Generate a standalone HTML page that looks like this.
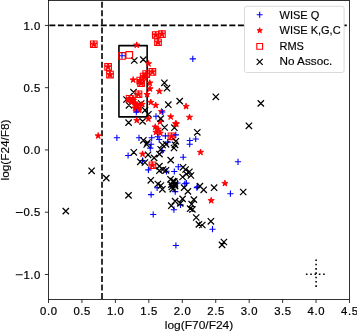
<!DOCTYPE html><html><head><meta charset="utf-8"><style>html,body{margin:0;padding:0;background:#fff;}svg{display:block;}text{font-family:"Liberation Sans",sans-serif;stroke:#000;stroke-width:0.22px;}</style></head><body>
<svg style="will-change:transform" width="357" height="332" viewBox="0 0 357 332">
<rect x="0" y="0" width="357" height="332" fill="#fff"/>
<line x1="102.01" y1="299.1" x2="102.01" y2="0.5" stroke="#000" stroke-width="1.6" stroke-dasharray="6.0 2.571"/>
<line x1="49.35" y1="25.41" x2="349.5" y2="25.41" stroke="#000" stroke-width="1.6" stroke-dasharray="6.0 2.571"/>
<rect x="118.95" y="45.6" width="28.2" height="71.3" fill="none" stroke="#000" stroke-width="1.6" stroke-linejoin="round"/>
<path d="M131.15,57.35l6.30,6.30M131.15,63.65l6.30,-6.30M140.15,56.45l6.30,6.30M140.15,62.75l6.30,-6.30M161.25,79.65l6.30,6.30M161.25,85.95l6.30,-6.30M163.85,85.05l6.30,6.30M163.85,91.35l6.30,-6.30M130.35,89.05l6.30,6.30M130.35,95.35l6.30,-6.30M123.35,96.35l6.30,6.30M123.35,102.65l6.30,-6.30M125.85,102.15l6.30,6.30M125.85,108.45l6.30,-6.30M138.05,100.35l6.30,6.30M138.05,106.65l6.30,-6.30M141.85,107.05l6.30,6.30M141.85,113.35l6.30,-6.30M165.15,101.55l6.30,6.30M165.15,107.85l6.30,-6.30M176.55,97.95l6.30,6.30M176.55,104.25l6.30,-6.30M145.25,111.15l6.30,6.30M145.25,117.45l6.30,-6.30M139.45,118.25l6.30,6.30M139.45,124.55l6.30,-6.30M125.45,119.45l6.30,6.30M125.45,125.75l6.30,-6.30M161.45,124.35l6.30,6.30M161.45,130.65l6.30,-6.30M171.25,124.55l6.30,6.30M171.25,130.85l6.30,-6.30M212.65,93.65l6.30,6.30M212.65,99.95l6.30,-6.30M257.65,100.25l6.30,6.30M257.65,106.55l6.30,-6.30M245.75,122.65l6.30,6.30M245.75,128.95l6.30,-6.30M194.15,129.15l6.30,6.30M194.15,135.45l6.30,-6.30" stroke="#000" stroke-width="1.25" fill="none"/>
<path d="M136.70,41.85 L135.97,44.10 L133.61,44.10 L135.52,45.48 L134.79,47.73 L136.70,46.34 L138.61,47.73 L137.88,45.48 L139.79,44.10 L137.43,44.10ZM148.50,60.45 L147.77,62.70 L145.41,62.70 L147.32,64.08 L146.59,66.33 L148.50,64.94 L150.41,66.33 L149.68,64.08 L151.59,62.70 L149.23,62.70ZM133.20,76.65 L132.47,78.90 L130.11,78.90 L132.02,80.28 L131.29,82.53 L133.20,81.14 L135.11,82.53 L134.38,80.28 L136.29,78.90 L133.93,78.90ZM149.80,79.75 L149.07,82.00 L146.71,82.00 L148.62,83.38 L147.89,85.63 L149.80,84.24 L151.71,85.63 L150.98,83.38 L152.89,82.00 L150.53,82.00ZM150.00,85.55 L149.27,87.80 L146.91,87.80 L148.82,89.18 L148.09,91.43 L150.00,90.04 L151.91,91.43 L151.18,89.18 L153.09,87.80 L150.73,87.80ZM159.40,88.05 L158.67,90.30 L156.31,90.30 L158.22,91.68 L157.49,93.93 L159.40,92.54 L161.31,93.93 L160.58,91.68 L162.49,90.30 L160.13,90.30ZM98.20,132.55 L97.47,134.80 L95.11,134.80 L97.02,136.18 L96.29,138.43 L98.20,137.04 L100.11,138.43 L99.38,136.18 L101.29,134.80 L98.93,134.80ZM133.50,97.15 L132.77,99.40 L130.41,99.40 L132.32,100.78 L131.59,103.03 L133.50,101.64 L135.41,103.03 L134.68,100.78 L136.59,99.40 L134.23,99.40ZM135.80,101.15 L135.07,103.40 L132.71,103.40 L134.62,104.78 L133.89,107.03 L135.80,105.64 L137.71,107.03 L136.98,104.78 L138.89,103.40 L136.53,103.40ZM142.10,101.15 L141.37,103.40 L139.01,103.40 L140.92,104.78 L140.19,107.03 L142.10,105.64 L144.01,107.03 L143.28,104.78 L145.19,103.40 L142.83,103.40ZM138.10,106.15 L137.37,108.40 L135.01,108.40 L136.92,109.78 L136.19,112.03 L138.10,110.64 L140.01,112.03 L139.28,109.78 L141.19,108.40 L138.83,108.40ZM133.00,95.55 L132.27,97.80 L129.91,97.80 L131.82,99.18 L131.09,101.43 L133.00,100.04 L134.91,101.43 L134.18,99.18 L136.09,97.80 L133.73,97.80ZM131.00,98.75 L130.27,101.00 L127.91,101.00 L129.82,102.38 L129.09,104.63 L131.00,103.24 L132.91,104.63 L132.18,102.38 L134.09,101.00 L131.73,101.00ZM135.00,99.75 L134.27,102.00 L131.91,102.00 L133.82,103.38 L133.09,105.63 L135.00,104.24 L136.91,105.63 L136.18,103.38 L138.09,102.00 L135.73,102.00ZM137.00,102.75 L136.27,105.00 L133.91,105.00 L135.82,106.38 L135.09,108.63 L137.00,107.24 L138.91,108.63 L138.18,106.38 L140.09,105.00 L137.73,105.00ZM139.50,101.25 L138.77,103.50 L136.41,103.50 L138.32,104.88 L137.59,107.13 L139.50,105.74 L141.41,107.13 L140.68,104.88 L142.59,103.50 L140.23,103.50ZM135.00,104.75 L134.27,107.00 L131.91,107.00 L133.82,108.38 L133.09,110.63 L135.00,109.24 L136.91,110.63 L136.18,108.38 L138.09,107.00 L135.73,107.00ZM139.00,106.75 L138.27,109.00 L135.91,109.00 L137.82,110.38 L137.09,112.63 L139.00,111.24 L140.91,112.63 L140.18,110.38 L142.09,109.00 L139.73,109.00ZM136.80,117.15 L136.07,119.40 L133.71,119.40 L135.62,120.78 L134.89,123.03 L136.80,121.64 L138.71,123.03 L137.98,120.78 L139.89,119.40 L137.53,119.40ZM147.10,91.25 L146.37,93.50 L144.01,93.50 L145.92,94.88 L145.19,97.13 L147.10,95.74 L149.01,97.13 L148.28,94.88 L150.19,93.50 L147.83,93.50ZM150.80,99.05 L150.07,101.30 L147.71,101.30 L149.62,102.68 L148.89,104.93 L150.80,103.54 L152.71,104.93 L151.98,102.68 L153.89,101.30 L151.53,101.30ZM155.70,102.05 L154.97,104.30 L152.61,104.30 L154.52,105.68 L153.79,107.93 L155.70,106.54 L157.61,107.93 L156.88,105.68 L158.79,104.30 L156.43,104.30ZM170.70,113.55 L169.97,115.80 L167.61,115.80 L169.52,117.18 L168.79,119.43 L170.70,118.04 L172.61,119.43 L171.88,117.18 L173.79,115.80 L171.43,115.80ZM148.40,115.65 L147.67,117.90 L145.31,117.90 L147.22,119.28 L146.49,121.53 L148.40,120.14 L150.31,121.53 L149.58,119.28 L151.49,117.90 L149.13,117.90ZM160.00,118.55 L159.27,120.80 L156.91,120.80 L158.82,122.18 L158.09,124.43 L160.00,123.04 L161.91,124.43 L161.18,122.18 L163.09,120.80 L160.73,120.80ZM155.30,123.75 L154.57,126.00 L152.21,126.00 L154.12,127.38 L153.39,129.63 L155.30,128.24 L157.21,129.63 L156.48,127.38 L158.39,126.00 L156.03,126.00ZM158.20,125.95 L157.47,128.20 L155.11,128.20 L157.02,129.58 L156.29,131.83 L158.20,130.44 L160.11,131.83 L159.38,129.58 L161.29,128.20 L158.93,128.20ZM155.90,129.05 L155.17,131.30 L152.81,131.30 L154.72,132.68 L153.99,134.93 L155.90,133.54 L157.81,134.93 L157.08,132.68 L158.99,131.30 L156.63,131.30ZM160.30,129.95 L159.57,132.20 L157.21,132.20 L159.12,133.58 L158.39,135.83 L160.30,134.44 L162.21,135.83 L161.48,133.58 L163.39,132.20 L161.03,132.20ZM161.50,108.35 L160.77,110.60 L158.41,110.60 L160.32,111.98 L159.59,114.23 L161.50,112.84 L163.41,114.23 L162.68,111.98 L164.59,110.60 L162.23,110.60ZM175.50,120.45 L174.77,122.70 L172.41,122.70 L174.32,124.08 L173.59,126.33 L175.50,124.94 L177.41,126.33 L176.68,124.08 L178.59,122.70 L176.23,122.70ZM186.10,103.15 L185.37,105.40 L183.01,105.40 L184.92,106.78 L184.19,109.03 L186.10,107.64 L188.01,109.03 L187.28,106.78 L189.19,105.40 L186.83,105.40ZM189.50,114.05 L188.77,116.30 L186.41,116.30 L188.32,117.68 L187.59,119.93 L189.50,118.54 L191.41,119.93 L190.68,117.68 L192.59,116.30 L190.23,116.30ZM176.40,120.65 L175.67,122.90 L173.31,122.90 L175.22,124.28 L174.49,126.53 L176.40,125.14 L178.31,126.53 L177.58,124.28 L179.49,122.90 L177.13,122.90ZM200.50,149.05 L199.77,151.30 L197.41,151.30 L199.32,152.68 L198.59,154.93 L200.50,153.54 L202.41,154.93 L201.68,152.68 L203.59,151.30 L201.23,151.30ZM142.60,150.85 L141.87,153.10 L139.51,153.10 L141.42,154.48 L140.69,156.73 L142.60,155.34 L144.51,156.73 L143.78,154.48 L145.69,153.10 L143.33,153.10ZM224.90,180.15 L224.17,182.40 L221.81,182.40 L223.72,183.78 L222.99,186.03 L224.90,184.64 L226.81,186.03 L226.08,183.78 L227.99,182.40 L225.63,182.40ZM211.20,197.35 L210.47,199.60 L208.11,199.60 L210.02,200.98 L209.29,203.23 L211.20,201.84 L213.11,203.23 L212.38,200.98 L214.29,199.60 L211.93,199.60Z" fill="#ff0000" stroke="#ff0000" stroke-width="0.9" stroke-linejoin="bevel"/>
<path d="M93.80,40.65 L92.99,43.14 L90.38,43.14 L92.49,44.67 L91.68,47.16 L93.80,45.63 L95.92,47.16 L95.11,44.67 L97.22,43.14 L94.61,43.14ZM108.10,63.35 L107.29,65.84 L104.68,65.84 L106.79,67.37 L105.98,69.86 L108.10,68.33 L110.22,69.86 L109.41,67.37 L111.52,65.84 L108.91,65.84ZM110.00,70.95 L109.19,73.44 L106.58,73.44 L108.69,74.97 L107.88,77.46 L110.00,75.93 L112.12,77.46 L111.31,74.97 L113.42,73.44 L110.81,73.44ZM155.75,31.40 L154.94,33.89 L152.33,33.89 L154.44,35.42 L153.63,37.91 L155.75,36.38 L157.87,37.91 L157.06,35.42 L159.17,33.89 L156.56,33.89ZM161.90,30.60 L161.09,33.09 L158.48,33.09 L160.59,34.62 L159.78,37.11 L161.90,35.58 L164.02,37.11 L163.21,34.62 L165.32,33.09 L162.71,33.09ZM158.00,38.65 L157.19,41.14 L154.58,41.14 L156.69,42.67 L155.88,45.16 L158.00,43.63 L160.12,45.16 L159.31,42.67 L161.42,41.14 L158.81,41.14ZM152.40,68.35 L151.59,70.84 L148.98,70.84 L151.09,72.37 L150.28,74.86 L152.40,73.33 L154.52,74.86 L153.71,72.37 L155.82,70.84 L153.21,70.84ZM146.20,70.45 L145.39,72.94 L142.78,72.94 L144.89,74.47 L144.08,76.96 L146.20,75.43 L148.32,76.96 L147.51,74.47 L149.62,72.94 L147.01,72.94ZM143.60,72.95 L142.79,75.44 L140.18,75.44 L142.29,76.97 L141.48,79.46 L143.60,77.93 L145.72,79.46 L144.91,76.97 L147.02,75.44 L144.41,75.44ZM140.20,76.95 L139.39,79.44 L136.78,79.44 L138.89,80.97 L138.08,83.46 L140.20,81.93 L142.32,83.46 L141.51,80.97 L143.62,79.44 L141.01,79.44ZM141.10,79.45 L140.29,81.94 L137.68,81.94 L139.79,83.47 L138.98,85.96 L141.10,84.43 L143.22,85.96 L142.41,83.47 L144.52,81.94 L141.91,81.94ZM138.50,90.65 L137.69,93.14 L135.08,93.14 L137.19,94.67 L136.38,97.16 L138.50,95.63 L140.62,97.16 L139.81,94.67 L141.92,93.14 L139.31,93.14ZM137.60,104.65 L136.79,107.14 L134.18,107.14 L136.29,108.67 L135.48,111.16 L137.60,109.63 L139.72,111.16 L138.91,108.67 L141.02,107.14 L138.41,107.14ZM129.60,95.15 L128.79,97.64 L126.18,97.64 L128.29,99.17 L127.48,101.66 L129.60,100.13 L131.72,101.66 L130.91,99.17 L133.02,97.64 L130.41,97.64ZM171.50,132.75 L170.69,135.24 L168.08,135.24 L170.19,136.77 L169.38,139.26 L171.50,137.73 L173.62,139.26 L172.81,136.77 L174.92,135.24 L172.31,135.24ZM152.40,161.65 L151.59,164.14 L148.98,164.14 L151.09,165.67 L150.28,168.16 L152.40,166.63 L154.52,168.16 L153.71,165.67 L155.82,164.14 L153.21,164.14Z" fill="#ff0000" stroke="#ff0000" stroke-width="0.9" stroke-linejoin="bevel"/>
<path d="M90.50,40.95h6.60v6.60h-6.60ZM104.80,63.65h6.60v6.60h-6.60ZM106.70,71.25h6.60v6.60h-6.60ZM152.45,31.70h6.60v6.60h-6.60ZM158.60,30.90h6.60v6.60h-6.60ZM154.70,38.95h6.60v6.60h-6.60ZM149.10,68.65h6.60v6.60h-6.60ZM142.90,70.75h6.60v6.60h-6.60ZM140.30,73.25h6.60v6.60h-6.60ZM136.90,77.25h6.60v6.60h-6.60ZM137.80,79.75h6.60v6.60h-6.60ZM135.20,90.95h6.60v6.60h-6.60ZM134.30,104.95h6.60v6.60h-6.60ZM126.30,95.45h6.60v6.60h-6.60ZM168.20,133.05h6.60v6.60h-6.60ZM149.10,161.95h6.60v6.60h-6.60ZM118.70,52.65h6.60v6.60h-6.60ZM126.00,51.65h6.60v6.60h-6.60Z" stroke="#ff0000" stroke-width="1.1" fill="none"/>
<path d="M174.50,183.00h6.20M177.60,179.90v6.20M163.40,171.30h6.20M166.50,168.20v6.20M118.90,55.70h6.20M122.00,52.60v6.20M113.80,137.80h6.20M116.90,134.70v6.20M189.70,58.90h6.20M192.80,55.80v6.20M133.20,112.10h6.20M136.30,109.00v6.20M159.20,112.00h6.20M162.30,108.90v6.20M152.90,116.30h6.20M156.00,113.20v6.20M162.30,135.90h6.20M165.40,132.80v6.20M172.70,134.90h6.20M175.80,131.80v6.20M154.60,136.70h6.20M157.70,133.60v6.20M148.60,137.80h6.20M151.70,134.70v6.20M135.90,137.80h6.20M139.00,134.70v6.20M156.10,139.50h6.20M159.20,136.40v6.20M164.60,142.10h6.20M167.70,139.00v6.20M186.70,140.50h6.20M189.80,137.40v6.20M192.60,139.00h6.20M195.70,135.90v6.20M186.60,144.20h6.20M189.70,141.10v6.20M180.10,157.20h6.20M183.20,154.10v6.20M175.20,166.80h6.20M178.30,163.70v6.20M148.00,144.30h6.20M151.10,141.20v6.20M147.20,148.10h6.20M150.30,145.00v6.20M159.10,150.60h6.20M162.20,147.50v6.20M125.00,155.50h6.20M128.10,152.40v6.20M139.40,160.50h6.20M142.50,157.40v6.20M145.30,169.90h6.20M148.40,166.80v6.20M171.20,171.50h6.20M174.30,168.40v6.20M154.00,187.80h6.20M157.10,184.70v6.20M148.00,194.60h6.20M151.10,191.50v6.20M150.10,214.50h6.20M153.20,211.40v6.20M172.10,191.60h6.20M175.20,188.50v6.20M183.30,183.10h6.20M186.40,180.00v6.20M193.80,187.60h6.20M196.90,184.50v6.20M177.40,204.90h6.20M180.50,201.80v6.20M170.80,209.70h6.20M173.90,206.60v6.20M181.70,183.80h6.20M184.80,180.70v6.20M194.50,186.70h6.20M197.60,183.60v6.20M234.90,161.80h6.20M238.00,158.70v6.20M227.30,193.70h6.20M230.40,190.60v6.20M209.40,229.20h6.20M212.50,226.10v6.20M172.80,245.50h6.20M175.90,242.40v6.20" stroke="#0000ff" stroke-width="1.1" fill="none"/>
<path d="M179.85,164.15l6.30,6.30M179.85,170.45l6.30,-6.30M169.85,178.05l6.30,6.30M169.85,184.35l6.30,-6.30M171.85,181.05l6.30,6.30M171.85,187.35l6.30,-6.30M168.65,183.85l6.30,6.30M168.65,190.15l6.30,-6.30M140.25,137.15l6.30,6.30M140.25,143.45l6.30,-6.30M144.35,139.35l6.30,6.30M144.35,145.65l6.30,-6.30M143.55,141.35l6.30,6.30M143.55,147.65l6.30,-6.30M159.45,141.85l6.30,6.30M159.45,148.15l6.30,-6.30M162.95,141.15l6.30,6.30M162.95,147.45l6.30,-6.30M172.65,138.15l6.30,6.30M172.65,144.45l6.30,-6.30M171.85,141.65l6.30,6.30M171.85,147.95l6.30,-6.30M170.85,144.85l6.30,6.30M170.85,151.15l6.30,-6.30M157.55,146.15l6.30,6.30M157.55,152.45l6.30,-6.30M156.35,150.95l6.30,6.30M156.35,157.25l6.30,-6.30M130.65,149.15l6.30,6.30M130.65,155.45l6.30,-6.30M144.95,151.65l6.30,6.30M144.95,157.95l6.30,-6.30M150.95,154.75l6.30,6.30M150.95,161.05l6.30,-6.30M137.15,158.65l6.30,6.30M137.15,164.95l6.30,-6.30M141.75,159.35l6.30,6.30M141.75,165.65l6.30,-6.30M167.55,156.95l6.30,6.30M167.55,163.25l6.30,-6.30M156.25,162.95l6.30,6.30M156.25,169.25l6.30,-6.30M156.25,167.55l6.30,6.30M156.25,173.85l6.30,-6.30M159.85,166.35l6.30,6.30M159.85,172.65l6.30,-6.30M210.95,184.55l6.30,6.30M210.95,190.85l6.30,-6.30M240.05,188.85l6.30,6.30M240.05,195.15l6.30,-6.30M147.65,177.15l6.30,6.30M147.65,183.45l6.30,-6.30M154.75,180.85l6.30,6.30M154.75,187.15l6.30,-6.30M157.75,182.35l6.30,6.30M157.75,188.65l6.30,-6.30M159.25,186.15l6.30,6.30M159.25,192.45l6.30,-6.30M162.85,167.15l6.30,6.30M162.85,173.45l6.30,-6.30M182.45,166.35l6.30,6.30M182.45,172.65l6.30,-6.30M186.25,168.65l6.30,6.30M186.25,174.95l6.30,-6.30M187.75,172.35l6.30,6.30M187.75,178.65l6.30,-6.30M183.25,170.85l6.30,6.30M183.25,177.15l6.30,-6.30M179.45,173.85l6.30,6.30M179.45,180.15l6.30,-6.30M167.35,176.15l6.30,6.30M167.35,182.45l6.30,-6.30M171.15,178.45l6.30,6.30M171.15,184.75l6.30,-6.30M168.15,181.45l6.30,6.30M168.15,187.75l6.30,-6.30M171.95,182.95l6.30,6.30M171.95,189.25l6.30,-6.30M169.65,185.95l6.30,6.30M169.65,192.25l6.30,-6.30M180.95,184.45l6.30,6.30M180.95,190.75l6.30,-6.30M184.75,188.25l6.30,6.30M184.75,194.55l6.30,-6.30M196.75,182.95l6.30,6.30M196.75,189.25l6.30,-6.30M200.55,186.65l6.30,6.30M200.55,192.95l6.30,-6.30M171.95,197.95l6.30,6.30M171.95,204.25l6.30,-6.30M179.45,195.75l6.30,6.30M179.45,202.05l6.30,-6.30M168.15,202.55l6.30,6.30M168.15,208.85l6.30,-6.30M177.15,200.25l6.30,6.30M177.15,206.55l6.30,-6.30M190.75,196.45l6.30,6.30M190.75,202.75l6.30,-6.30M188.45,201.05l6.30,6.30M188.45,207.35l6.30,-6.30M186.95,205.55l6.30,6.30M186.95,211.85l6.30,-6.30M189.25,206.25l6.30,6.30M189.25,212.55l6.30,-6.30M193.05,214.35l6.30,6.30M193.05,220.65l6.30,-6.30M195.75,221.25l6.30,6.30M195.75,227.55l6.30,-6.30M199.15,221.85l6.30,6.30M199.15,228.15l6.30,-6.30M207.75,218.15l6.30,6.30M207.75,224.45l6.30,-6.30M220.75,238.85l6.30,6.30M220.75,245.15l6.30,-6.30M218.85,241.75l6.30,6.30M218.85,248.05l6.30,-6.30M88.45,167.65l6.30,6.30M88.45,173.95l6.30,-6.30M103.15,174.95l6.30,6.30M103.15,181.25l6.30,-6.30M125.35,192.25l6.30,6.30M125.35,198.55l6.30,-6.30M62.65,207.95l6.30,6.30M62.65,214.25l6.30,-6.30" stroke="#000" stroke-width="1.25" fill="none"/>
<path d="M157.55,115.45l6.30,6.30M157.55,121.75l6.30,-6.30" stroke="#000" stroke-width="1.25" fill="none"/>
<g stroke="#000" stroke-width="1.6" stroke-dasharray="1.6 2.71">
<line x1="305.9" y1="274.3" x2="326.3" y2="274.3"/>
<line x1="316.1" y1="286.9" x2="316.1" y2="259.4"/>
</g>
<rect x="48.5" y="0.5" width="301.00" height="298.90" fill="none" stroke="#000" stroke-width="0.8"/>
<line x1="48.50" y1="299.4" x2="48.50" y2="303.00" stroke="#000" stroke-width="0.8"/>
<text x="48.81" y="315.3" font-size="11.3" letter-spacing="0.62" text-anchor="middle">0.0</text>
<line x1="81.94" y1="299.4" x2="81.94" y2="303.00" stroke="#000" stroke-width="0.8"/>
<text x="82.25" y="315.3" font-size="11.3" letter-spacing="0.62" text-anchor="middle">0.5</text>
<line x1="115.39" y1="299.4" x2="115.39" y2="303.00" stroke="#000" stroke-width="0.8"/>
<text x="115.70" y="315.3" font-size="11.3" letter-spacing="0.62" text-anchor="middle">1.0</text>
<line x1="148.83" y1="299.4" x2="148.83" y2="303.00" stroke="#000" stroke-width="0.8"/>
<text x="149.14" y="315.3" font-size="11.3" letter-spacing="0.62" text-anchor="middle">1.5</text>
<line x1="182.28" y1="299.4" x2="182.28" y2="303.00" stroke="#000" stroke-width="0.8"/>
<text x="182.59" y="315.3" font-size="11.3" letter-spacing="0.62" text-anchor="middle">2.0</text>
<line x1="215.72" y1="299.4" x2="215.72" y2="303.00" stroke="#000" stroke-width="0.8"/>
<text x="216.03" y="315.3" font-size="11.3" letter-spacing="0.62" text-anchor="middle">2.5</text>
<line x1="249.17" y1="299.4" x2="249.17" y2="303.00" stroke="#000" stroke-width="0.8"/>
<text x="249.48" y="315.3" font-size="11.3" letter-spacing="0.62" text-anchor="middle">3.0</text>
<line x1="282.61" y1="299.4" x2="282.61" y2="303.00" stroke="#000" stroke-width="0.8"/>
<text x="282.92" y="315.3" font-size="11.3" letter-spacing="0.62" text-anchor="middle">3.5</text>
<line x1="316.06" y1="299.4" x2="316.06" y2="303.00" stroke="#000" stroke-width="0.8"/>
<text x="316.37" y="315.3" font-size="11.3" letter-spacing="0.62" text-anchor="middle">4.0</text>
<line x1="349.50" y1="299.4" x2="349.50" y2="303.00" stroke="#000" stroke-width="0.8"/>
<text x="349.81" y="315.3" font-size="11.3" letter-spacing="0.62" text-anchor="middle">4.5</text>
<line x1="44.90" y1="274.49" x2="48.5" y2="274.49" stroke="#000" stroke-width="0.8"/>
<text x="41.02" y="278.69" font-size="11.3" letter-spacing="0.62" text-anchor="end">1.0</text>
<rect x="15.8" y="274.29" width="7.0" height="0.95" fill="#000"/>
<line x1="44.90" y1="212.22" x2="48.5" y2="212.22" stroke="#000" stroke-width="0.8"/>
<text x="41.02" y="216.42" font-size="11.3" letter-spacing="0.62" text-anchor="end">0.5</text>
<rect x="15.8" y="212.02" width="7.0" height="0.95" fill="#000"/>
<line x1="44.90" y1="149.95" x2="48.5" y2="149.95" stroke="#000" stroke-width="0.8"/>
<text x="41.02" y="154.15" font-size="11.3" letter-spacing="0.62" text-anchor="end">0.0</text>
<line x1="44.90" y1="87.68" x2="48.5" y2="87.68" stroke="#000" stroke-width="0.8"/>
<text x="41.02" y="91.88" font-size="11.3" letter-spacing="0.62" text-anchor="end">0.5</text>
<line x1="44.90" y1="25.41" x2="48.5" y2="25.41" stroke="#000" stroke-width="0.8"/>
<text x="41.02" y="29.61" font-size="11.3" letter-spacing="0.62" text-anchor="end">1.0</text>
<text x="199.00" y="329.1" style="stroke-width:0.12px" font-size="11" text-anchor="middle" textLength="68.5" lengthAdjust="spacingAndGlyphs">log(F70/F24)</text>
<text transform="translate(8.9,149.95) rotate(-90)" x="0" y="0" style="stroke-width:0.12px" font-size="11" text-anchor="middle" textLength="61" lengthAdjust="spacingAndGlyphs">log(F24/F8)</text>
<rect x="244.5" y="6.3" width="99.6" height="66.2" rx="2" ry="2" fill="#fff" stroke="#d6d6d6" stroke-width="0.9"/>
<path d="M256.75,14.80h5.90M259.70,11.85v5.90" stroke="#0000ff" stroke-width="1.1" fill="none"/>
<path d="M259.70,27.70 L259.07,29.63 L257.04,29.63 L258.68,30.83 L258.05,32.77 L259.70,31.57 L261.35,32.77 L260.72,30.83 L262.36,29.63 L260.33,29.63Z" fill="#ff0000" stroke="#ff0000" stroke-width="0.9" stroke-linejoin="bevel"/>
<path d="M256.80,43.50h5.80v5.80h-5.80Z" stroke="#ff0000" stroke-width="1.1" fill="none"/>
<path d="M256.70,58.90l6.00,6.00M256.70,64.90l6.00,-6.00" stroke="#000" stroke-width="1.25" fill="none"/>
<text x="279.5" y="18.50" style="stroke-width:0.15px" font-size="11">WISE Q</text>
<text x="279.5" y="34.10" style="stroke-width:0.15px" font-size="11">WISE K,G,C</text>
<text x="279.5" y="49.70" style="stroke-width:0.15px" font-size="11">RMS</text>
<text x="279.5" y="65.30" style="stroke-width:0.15px" font-size="11" textLength="52.8" lengthAdjust="spacingAndGlyphs">No Assoc.</text>
</svg></body></html>
